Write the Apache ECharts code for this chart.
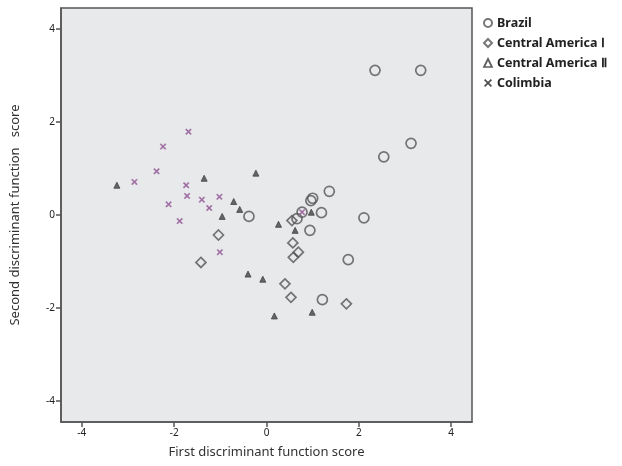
<!DOCTYPE html>
<html>
<head>
<meta charset="utf-8">
<script src="https://cdn.jsdelivr.net/npm/echarts@6/dist/echarts.min.js"></script>
<style>
  html, body { margin: 0; padding: 0; background: #fff; }
  #main { width: 622px; height: 466px; }
</style>
</head>
<body>
<div id="main"></div>
<script>
// discriminant scores, [first, second]
var brazil = [
  [2.35, 3.11], [3.34, 3.11], [2.54, 1.25], [3.13, 1.54], [1.36, 0.51],
  [1.0, 0.36], [0.96, 0.31], [1.19, 0.05], [2.11, -0.06], [0.94, -0.33],
  [1.77, -0.96], [1.21, -1.82], [0.66, -0.08], [0.77, 0.06], [-0.38, -0.03]
];
var centralAmerica1 = [
  [-1.04, -0.43], [-1.42, -1.02], [0.57, -0.6], [0.69, -0.8], [0.58, -0.91],
  [0.4, -1.48], [0.53, -1.77], [1.73, -1.91], [0.55, -0.12]
];
var centralAmerica2 = [
  [-3.24, 0.64], [-1.35, 0.79], [-0.23, 0.9], [-0.71, 0.29], [-0.58, 0.12],
  [-0.96, -0.03], [-0.4, -1.27], [-0.08, -1.38], [0.26, -0.2], [0.97, 0.06],
  [0.62, -0.33], [0.17, -2.17], [0.99, -2.09]
];
var colombia = [
  [-1.69, 1.79], [-2.24, 1.47], [-2.38, 0.94], [-2.86, 0.71], [-1.74, 0.64],
  [-1.72, 0.41], [-1.4, 0.33], [-1.02, 0.39], [-2.12, 0.23], [-1.24, 0.15],
  [-1.88, -0.13], [-1.01, -0.8], [0.77, 0.06]
];
var groupNames = ['Brazil', 'Central America \u2160', 'Central America \u2161', 'Colimbia'];
var xTicks = [-4, -2, 0, 2, 4];
var yTicks = [-4, -2, 0, 2, 4];

var crossPath = 'path://M0,1.5L1.5,0L5,3.5L8.5,0L10,1.5L6.5,5L10,8.5L8.5,10L5,6.5L1.5,10L0,8.5L3.5,5Z';
var edge = '#555';

var chart = echarts.init(document.getElementById('main'));

function axis(name, ticks, gap, rotate) {
  return {
    type: 'value',
    min: -4.45,
    max: 4.45,
    name: name,
    nameLocation: 'middle',
    nameGap: gap,
    nameRotate: rotate,
    nameTextStyle: { fontFamily: 'Noto Sans', fontSize: 13, color: '#333' },
    splitLine: { show: false },
    axisLine: { show: true, onZero: false, lineStyle: { color: edge, width: 1.5 } },
    axisTick: { show: true, length: 5, customValues: ticks, lineStyle: { color: edge, width: 1.5 } },
    axisLabel: { customValues: ticks, fontFamily: 'Noto Sans', fontSize: 10, color: '#222', margin: 6 }
  };
}

chart.setOption({
  animation: false,
  grid: {
    left: 61, right: 150, top: 8, bottom: 44,
    show: true,
    backgroundColor: '#E8E9EB',
    borderColor: edge,
    borderWidth: 1.5
  },
  legend: {
    orient: 'vertical',
    left: 478,
    top: 11,
    itemWidth: 8,
    itemHeight: 8,
    itemGap: 6,
    textStyle: { fontFamily: 'Noto Sans', fontSize: 12.5, fontWeight: 'bold', color: '#222', lineHeight: 14 },
    data: [
      { name: groupNames[0], icon: 'circle' },
      { name: groupNames[1], icon: 'diamond' },
      { name: groupNames[2], icon: 'triangle', itemStyle: { color: 'rgba(0,0,0,0)', borderColor: '#333', borderWidth: 1.7 } },
      { name: groupNames[3], icon: crossPath, itemStyle: { color: '#222', borderWidth: 0 } }
    ]
  },
  xAxis: axis('First discriminant function score', xTicks, 24, 0),
  yAxis: axis('Second discriminant function   score', yTicks, 39, 90),
  series: [
    {
      name: groupNames[0], type: 'scatter', symbol: 'circle', symbolSize: 10,
      itemStyle: { color: 'rgba(0,0,0,0)', borderColor: edge, borderWidth: 1.7 },
      data: brazil
    },
    {
      name: groupNames[1], type: 'scatter', symbol: 'diamond', symbolSize: 10,
      itemStyle: { color: 'rgba(0,0,0,0)', borderColor: edge, borderWidth: 1.7 },
      data: centralAmerica1
    },
    {
      name: groupNames[2], type: 'scatter', symbol: 'triangle', symbolSize: 6,
      itemStyle: { color: '#444', borderColor: '#444', borderWidth: 1 },
      data: centralAmerica2
    },
    {
      name: groupNames[3], type: 'scatter', symbol: crossPath, symbolSize: 6,
      itemStyle: { color: '#8A4A8C', borderColor: 'rgba(160,110,165,0.5)', borderWidth: 1 },
      data: colombia
    }
  ]
});
</script>
</body>
</html>
